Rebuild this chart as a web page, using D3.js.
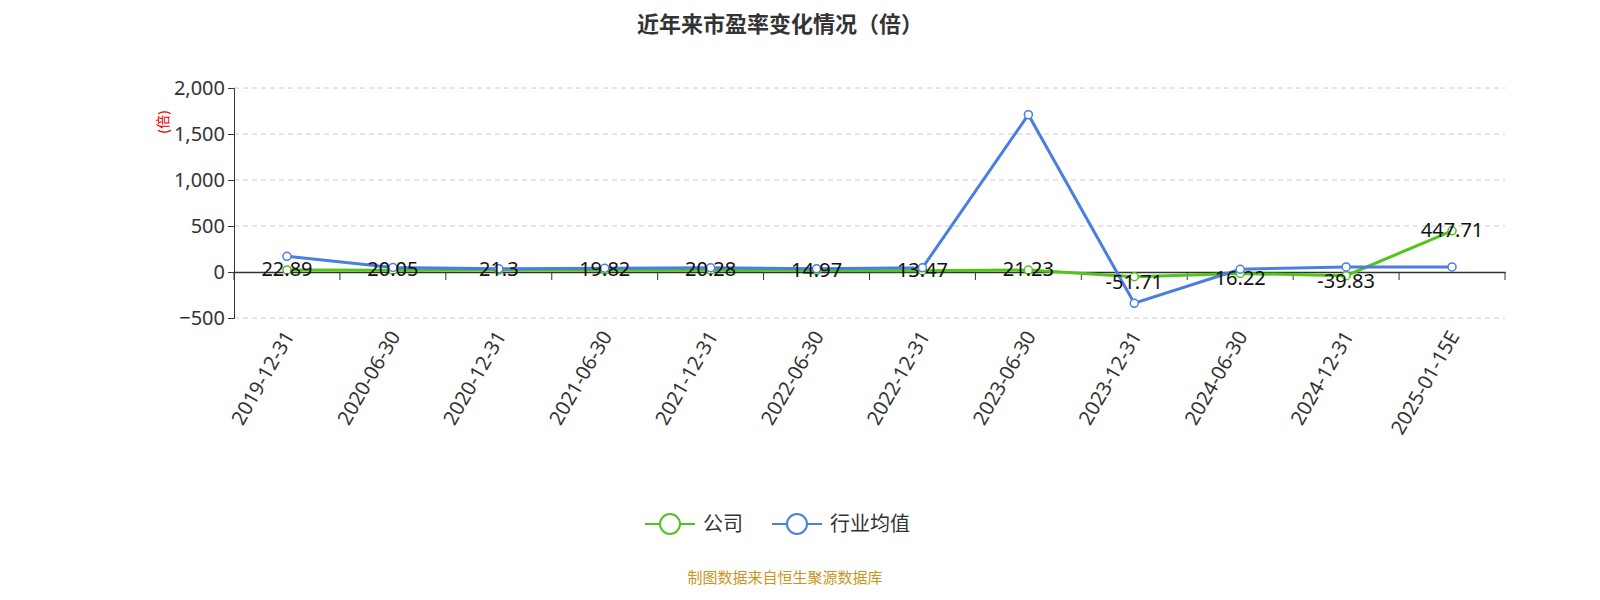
<!DOCTYPE html><html><head><meta charset="utf-8"><script src="https://cdn.jsdelivr.net/npm/d3@7"></script>
<style>body{margin:0;background:#fff;font-family:"Noto Sans","Noto Sans CJK SC",sans-serif}</style></head><body><svg id="c" width="1600" height="600"></svg>
<script>
const categories=["2019-12-31","2020-06-30","2020-12-31","2021-06-30","2021-12-31","2022-06-30","2022-12-31","2023-06-30","2023-12-31","2024-06-30","2024-12-31","2025-01-15E"];
const company=[22.89,20.05,21.3,19.82,20.28,14.97,13.47,21.23,-51.71,-16.22,-39.83,447.71];
const companyLabels=["22.89","20.05","21.3","19.82","20.28","14.97","13.47","21.23","-51.71","16.22","-39.83","447.71"];
const industry=[170,50,35,40,45,35,45,1710,-340,30,55,55];
const yTicks=[-500,0,500,1000,1500,2000];
const svg=d3.select("#c");
const font='"Noto Sans","Noto Sans CJK SC",sans-serif';
const x=d3.scaleBand().domain(categories).range([234,1505]);
const y=d3.scaleLinear().domain([-500,2000]).range([318,88]);
const cx=d=>x(d)+x.bandwidth()/2;
svg.append("text").attr("x",780).attr("y",32).attr("text-anchor","middle").attr("font-size",22).attr("font-weight","bold").attr("fill","#333").attr("font-family",font).text("近年来市盈率变化情况（倍）");
// grid
svg.append("g").selectAll("line").data(yTicks.filter(t=>t!==0)).join("line")
 .attr("x1",234).attr("x2",1505).attr("y1",d=>y(d)).attr("y2",d=>y(d)).attr("stroke","#ccc").attr("stroke-dasharray","5,4");
// y axis
const ya=svg.append("g").attr("transform","translate(234,0)").call(d3.axisLeft(y).tickValues(yTicks).tickFormat(d3.format(",")).tickSize(6));
ya.select(".domain").attr("stroke","#333");
ya.selectAll("text").attr("font-size",20).attr("fill","#333").attr("font-family",font);
ya.selectAll("line").attr("stroke","#333");
// x axis at 0
const xa=svg.append("g").attr("transform",`translate(0,${y(0)})`).call(d3.axisBottom(x).tickValues([]).tickSize(0));
xa.select(".domain").attr("stroke","#333").attr("stroke-width",1.5);
svg.append("g").selectAll("line").data(categories.concat(["end"])).join("line")
 .attr("x1",(d,i)=>234+i*x.bandwidth()).attr("x2",(d,i)=>234+i*x.bandwidth()).attr("y1",y(0)).attr("y2",y(0)+8).attr("stroke","#333");
svg.append("g").selectAll("text").data(categories).join("text")
 .attr("transform",d=>`translate(${cx(d)+8},${336}) rotate(-60)`).attr("text-anchor","end").attr("font-size",20).attr("fill","#333").attr("font-family",font).text(d=>d);
svg.append("text").attr("transform","translate(168,122) rotate(-90)").attr("text-anchor","middle").attr("font-size",14).attr("fill","#e00").attr("font-family",font).text("(倍)");
const line=d3.line().x((d,i)=>cx(categories[i])).y(d=>y(d));
function series(vals,color){
 svg.append("path").datum(vals).attr("d",line).attr("fill","none").attr("stroke",color).attr("stroke-width",3);
 svg.append("g").selectAll("circle").data(vals).join("circle").attr("cx",(d,i)=>cx(categories[i])).attr("cy",d=>y(d)).attr("r",4).attr("fill","#fff").attr("stroke",color).attr("stroke-width",1.5);
}
series(company,"#52c41a");
series(industry,"#4a7fe0");
svg.append("g").selectAll("text").data(company).join("text").attr("x",(d,i)=>cx(categories[i])).attr("y",d=>y(d)+(d<0?12:6))
 .attr("text-anchor","middle").attr("font-size",20).attr("fill","#111").attr("font-family",font).text((d,i)=>companyLabels[i]);
// legend
const leg=[["公司","#52c41a",645],["行业均值","#4a7fe0",772]];
leg.forEach(([t,c,lx])=>{
 svg.append("line").attr("x1",lx).attr("x2",lx+50).attr("y1",524).attr("y2",524).attr("stroke",c).attr("stroke-width",2);
 svg.append("circle").attr("cx",lx+25).attr("cy",524).attr("r",10).attr("fill","#fff").attr("stroke",c).attr("stroke-width",2);
 svg.append("text").attr("x",lx+58).attr("y",531).attr("font-size",20).attr("fill","#333").attr("font-family",font).text(t);
});
svg.append("text").attr("x",785).attr("y",583).attr("text-anchor","middle").attr("font-size",15).attr("fill","#c8961e").attr("font-family",font).text("制图数据来自恒生聚源数据库");
</script></body></html>
